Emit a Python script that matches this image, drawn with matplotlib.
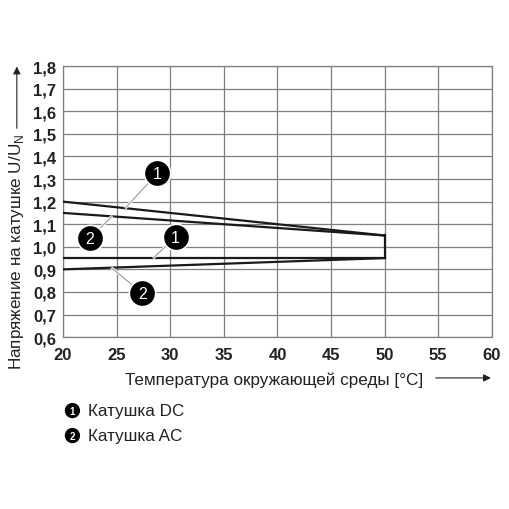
import matplotlib
matplotlib.use("Agg")
import matplotlib.pyplot as plt
from matplotlib.patches import FancyArrowPatch

plt.rcParams['font.family'] = ['Liberation Sans', 'DejaVu Sans']

# data
temp = [20, 50]
dc_upper = [1.2, 1.05]
ac_upper = [1.15, 1.05]
dc_lower = [0.95, 0.95]
ac_lower = [0.9, 0.95]
edge_temp = [50, 50]
edge_volt = [0.95, 1.05]

x_ticks = [20, 25, 30, 35, 40, 45, 50, 55, 60]
y_ticks = [0.6, 0.7, 0.8, 0.9, 1.0, 1.1, 1.2, 1.3, 1.4, 1.5, 1.6, 1.7, 1.8]

# callouts: label, bubble position, point on the curve
callouts = [
    ('1', (28.8, 1.325), (25.8, 1.171)),
    ('2', (22.5, 1.037), (24.6, 1.136)),
    ('1', (30.5, 1.042), (28.4, 0.95)),
    ('2', (27.4, 0.795), (24.5, 0.907)),
]

fig = plt.figure(figsize=(5.1, 5.1), dpi=100)
ax = fig.add_axes([0.1235, 0.337, 0.841, 0.5314])

for ys in (dc_upper, ac_upper, dc_lower, ac_lower):
    ax.plot(temp, ys, color='#1a1a1a', lw=1.6, zorder=3)
ax.plot(edge_temp, edge_volt, color='#1a1a1a', lw=1.6, zorder=3)

for lab, (bx, by), (px, py) in callouts:
    ax.plot([bx, px], [by, py], color='white', lw=2.2, zorder=4, solid_capstyle='butt')
    ax.plot([bx, px], [by, py], color='#999999', lw=0.8, zorder=5)
    ax.scatter([bx], [by], s=360, color='black', edgecolors='white', linewidths=1.2, zorder=6)
    ax.text(bx, by, lab, color='white', fontsize=11.5, ha='center', va='center', zorder=7)

ax.set_xlim(20, 60)
ax.set_ylim(0.6, 1.8)
ax.set_xticks(x_ticks)
ax.set_yticks(y_ticks)
ax.set_xticklabels([str(v) for v in x_ticks], fontsize=12, fontweight='bold')
ax.set_yticklabels([('%.1f' % v).replace('.', ',') for v in y_ticks], fontsize=12, fontweight='bold')
ax.tick_params(axis='x', length=0, pad=7, colors='#222222')
ax.tick_params(axis='y', length=0, pad=5, colors='#222222')
ax.grid(True, color='#7f7f7f', lw=0.9)
ax.set_axisbelow(True)
for s in ax.spines.values():
    s.set_color('#7f7f7f')
    s.set_linewidth(0.9)

# axis titles with arrows
fig.text(0.245, 0.255, 'Температура окружающей среды [°C]', fontsize=12.3, color='#222222', va='center', ha='left')
fig.add_artist(FancyArrowPatch((0.849, 0.257), (0.968, 0.257), transform=fig.transFigure,
                               arrowstyle='-|>', mutation_scale=11, color='#222222', lw=0.8))
fig.text(0.033, 0.506, 'Напряжение на катушке U/U$_\\mathregular{N}$', fontsize=12.3, color='#222222',
         rotation=90, va='center', ha='center')
fig.add_artist(FancyArrowPatch((0.033, 0.741), (0.033, 0.873), transform=fig.transFigure,
                               arrowstyle='-|>', mutation_scale=11, color='#222222', lw=0.8))

# legend
for i, (num, name) in enumerate([('1', 'Катушка DC'), ('2', 'Катушка AC')]):
    y = 0.193 - i * 0.049
    fig.text(0.142, y, num, fontsize=7, color='white', ha='center', va='center', fontweight='bold',
             bbox=dict(boxstyle='circle,pad=0.2', fc='black', ec='black'))
    fig.text(0.172, y, name, fontsize=12.3, color='#222222', ha='left', va='center')

fig.savefig('out.png', dpi=100)
